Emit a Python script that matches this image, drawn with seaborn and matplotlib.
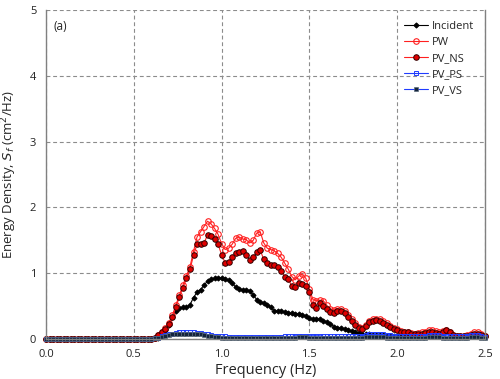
import numpy as np
import pandas as pd
import matplotlib
matplotlib.use("Agg")
import matplotlib.pyplot as plt
import seaborn as sns

# frequency grid (Hz), 0.00 .. 2.50 step 0.02
freq = np.round(np.arange(0, 126) * 0.02, 2)

zeros_low = [0.0] * 31  # 0.00 .. 0.60, all series flat at zero

incident = zeros_low + [
    0.01, 0.02, 0.07, 0.13, 0.21, 0.33, 0.42, 0.47, 0.48, 0.48,
    0.52, 0.63, 0.71, 0.75, 0.82, 0.88, 0.91, 0.92, 0.93, 0.93,
    0.91, 0.89, 0.85, 0.79, 0.76, 0.75, 0.75, 0.73, 0.67, 0.60,
    0.56, 0.54, 0.52, 0.48, 0.43, 0.42, 0.43, 0.41, 0.39, 0.39,
    0.38, 0.38, 0.37, 0.35, 0.32, 0.30, 0.30, 0.30, 0.28, 0.26,
    0.23, 0.19, 0.17, 0.16, 0.15, 0.13, 0.12, 0.10, 0.09, 0.08,
    0.07, 0.07, 0.06, 0.06, 0.06, 0.06, 0.05, 0.05, 0.05, 0.04,
    0.04, 0.04, 0.04, 0.04, 0.04, 0.05, 0.05, 0.05, 0.06, 0.06,
    0.06, 0.07, 0.10, 0.12, 0.10, 0.06, 0.04, 0.03, 0.03, 0.03,
    0.04, 0.05, 0.06, 0.05, 0.03]

pw = zeros_low + [
    0.02, 0.06, 0.11, 0.17, 0.25, 0.36, 0.52, 0.67, 0.82, 0.96,
    1.10, 1.33, 1.55, 1.63, 1.71, 1.79, 1.75, 1.68, 1.59, 1.45,
    1.36, 1.38, 1.44, 1.53, 1.55, 1.52, 1.51, 1.46, 1.50, 1.61,
    1.63, 1.46, 1.38, 1.36, 1.34, 1.30, 1.24, 1.15, 1.06, 0.95,
    0.90, 0.96, 0.99, 0.92, 0.76, 0.60, 0.58, 0.59, 0.58, 0.51,
    0.46, 0.44, 0.46, 0.46, 0.42, 0.36, 0.30, 0.24, 0.18, 0.16,
    0.22, 0.28, 0.31, 0.31, 0.30, 0.27, 0.24, 0.20, 0.17, 0.15,
    0.12, 0.11, 0.10, 0.09, 0.08, 0.09, 0.10, 0.11, 0.13, 0.13,
    0.12, 0.10, 0.12, 0.13, 0.10, 0.06, 0.05, 0.04, 0.05, 0.06,
    0.07, 0.10, 0.10, 0.07, 0.05]

pv_ns = zeros_low + [
    0.02, 0.06, 0.10, 0.15, 0.23, 0.34, 0.49, 0.64, 0.78, 0.92,
    1.06, 1.27, 1.44, 1.45, 1.46, 1.58, 1.56, 1.52, 1.44, 1.28,
    1.16, 1.17, 1.25, 1.30, 1.33, 1.34, 1.27, 1.20, 1.24, 1.33,
    1.35, 1.21, 1.15, 1.13, 1.12, 1.09, 1.03, 0.95, 0.91, 0.80,
    0.79, 0.85, 0.84, 0.80, 0.72, 0.52, 0.47, 0.54, 0.50, 0.46,
    0.41, 0.40, 0.42, 0.42, 0.39, 0.33, 0.27, 0.22, 0.16, 0.15,
    0.20, 0.26, 0.28, 0.29, 0.28, 0.25, 0.22, 0.18, 0.15, 0.14,
    0.11, 0.11, 0.10, 0.08, 0.07, 0.07, 0.08, 0.09, 0.10, 0.10,
    0.09, 0.08, 0.11, 0.13, 0.10, 0.06, 0.05, 0.04, 0.04, 0.05,
    0.06, 0.08, 0.08, 0.06, 0.04]

pv_ps = zeros_low + [
    0.01, 0.02, 0.04, 0.06, 0.07, 0.08, 0.09, 0.10, 0.10, 0.10,
    0.10, 0.10, 0.09, 0.09, 0.08, 0.07, 0.06, 0.05, 0.05, 0.04,
    0.04, 0.03, 0.03, 0.03, 0.03, 0.03, 0.03, 0.03, 0.03, 0.03,
    0.03, 0.03, 0.03, 0.03, 0.03, 0.03, 0.03, 0.04, 0.04, 0.04,
    0.05, 0.05, 0.05, 0.05, 0.05, 0.05, 0.05, 0.05, 0.04, 0.04,
    0.04, 0.04, 0.04, 0.04, 0.04, 0.04, 0.04, 0.04, 0.04, 0.05,
    0.06, 0.07, 0.07, 0.07, 0.07, 0.07, 0.06, 0.06, 0.05, 0.05,
    0.04, 0.04, 0.04, 0.04, 0.04, 0.04, 0.04, 0.05, 0.06, 0.06,
    0.06, 0.06, 0.05, 0.05, 0.04, 0.04, 0.04, 0.04, 0.04, 0.05,
    0.06, 0.06, 0.06, 0.05, 0.03]

pv_vs = zeros_low + [
    0.01, 0.02, 0.03, 0.05, 0.06, 0.07, 0.08, 0.08, 0.08, 0.08,
    0.08, 0.08, 0.07, 0.07, 0.06, 0.05, 0.04, 0.03, 0.03, 0.02,
    0.02, 0.02, 0.02, 0.02, 0.02, 0.02, 0.02, 0.02, 0.02, 0.02,
    0.02, 0.02, 0.02, 0.02, 0.02, 0.02, 0.02, 0.02, 0.02, 0.02,
    0.02, 0.03, 0.03, 0.03, 0.02, 0.02, 0.02, 0.02, 0.02, 0.02,
    0.02, 0.02, 0.02, 0.02, 0.02, 0.02, 0.02, 0.02, 0.02, 0.02,
    0.03, 0.03, 0.03, 0.03, 0.03, 0.03, 0.02, 0.02, 0.02, 0.02,
    0.02, 0.02, 0.02, 0.02, 0.02, 0.02, 0.02, 0.02, 0.03, 0.03,
    0.03, 0.03, 0.02, 0.02, 0.02, 0.02, 0.02, 0.02, 0.02, 0.02,
    0.03, 0.03, 0.03, 0.02, 0.02]

sns.set_style("white")
plt.rcParams['font.family'] = ['Open Sans', 'DejaVu Sans']

fig = plt.figure(figsize=(5.0, 3.79), dpi=100)
ax = fig.add_axes([0.092, 0.1055, 0.878, 0.868])

styles = [
    ("Incident", incident, dict(color="black", marker="D", markersize=2.6,
                                markerfacecolor="black", markeredgecolor="black")),
    ("PW", pw, dict(color="#ff2020", marker="o", markersize=4,
                    markerfacecolor="none", markeredgecolor="#ff2020", markeredgewidth=0.8)),
    ("PV_NS", pv_ns, dict(color="#ff2020", marker="o", markersize=4,
                          markerfacecolor="#e00000", markeredgecolor="#300000", markeredgewidth=0.7)),
    ("PV_PS", pv_ps, dict(color="#1f3cff", marker="s", markersize=3.2,
                          markerfacecolor="none", markeredgecolor="#1f3cff", markeredgewidth=0.7)),
    ("PV_VS", pv_vs, dict(color="#1f3cff", marker="s", markersize=3.2,
                          markerfacecolor="#14243c", markeredgecolor="#5a6a7a", markeredgewidth=0.5)),
]

for name, vals, kw in styles:
    sns.lineplot(x=freq, y=vals, ax=ax, label=name, linewidth=0.8, clip_on=False, **kw)

ax.set_xlim(0, 2.5)
ax.set_ylim(0, 5)
ax.set_xticks([0.0, 0.5, 1.0, 1.5, 2.0, 2.5])
ax.set_xticklabels(["0.0", "0.5", "1.0", "1.5", "2.0", "2.5"])
ax.set_yticks([0, 1, 2, 3, 4, 5])
ax.tick_params(axis="both", length=0, labelsize=8, pad=7, colors="#222222")
ax.grid(True, linestyle=(0, (3.5, 2.5)), color="#8c8c8c", linewidth=0.8)

for side in ["left", "right", "bottom"]:
    ax.spines[side].set_color("#808080")
    ax.spines[side].set_linewidth(1.0)
ax.spines["top"].set_visible(False)

ax.set_xlabel("Frequency (Hz)", fontsize=10.5, labelpad=2)
ax.set_ylabel("Energy Density, $S_f$ (cm$^2$/Hz)", fontsize=9.5, labelpad=8)
ax.text(0.016, 0.95, "(a)", transform=ax.transAxes, fontsize=8.5, va="center", ha="left")

ax.legend(loc="upper right", frameon=False, fontsize=8, handlelength=2.2,
          borderaxespad=0.6, labelspacing=0.45, handletextpad=0.3)

fig.savefig("out.png", dpi=100)
